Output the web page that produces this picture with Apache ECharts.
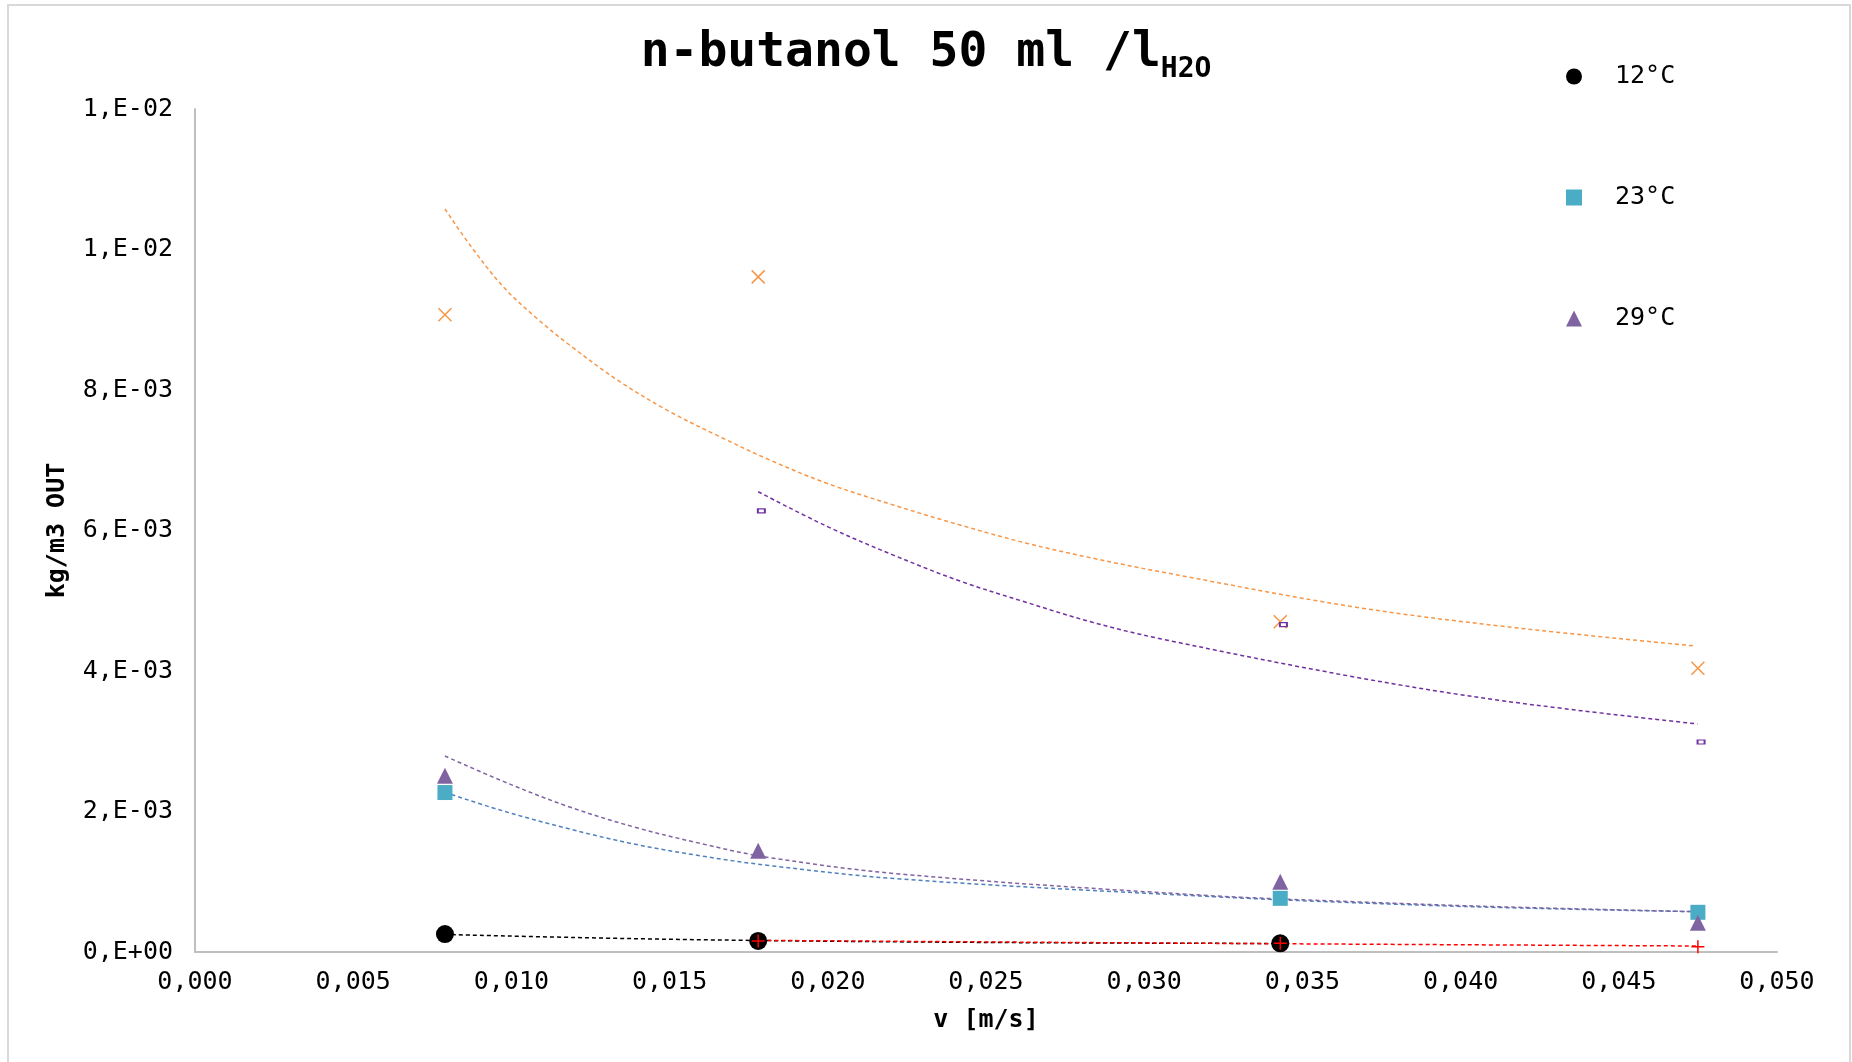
<!DOCTYPE html>
<html>
<head>
<meta charset="utf-8">
<title>n-butanol 50 ml /l H2O</title>
<script src="https://cdn.jsdelivr.net/npm/echarts@6/dist/echarts.min.js"></script>
<style>
  html, body { margin: 0; padding: 0; background: #fff; }
  #chart { width: 1852px; height: 1062px; }
</style>
</head>
<body>
<div id="chart"></div>
<script>
// measured points [v, kg/m3]
const pts12 = [[0.0079, 0.000256], [0.0178, 0.000157], [0.0343, 0.000124]]
const pts23 = [[0.0079, 0.00227], [0.0343, 0.000764], [0.0475, 0.000565]]
const pts29 = [[0.0079, 0.00251], [0.0178, 0.00144], [0.0343, 0.00100], [0.0475, 0.000417]]
const ptsCross = [[0.0079, 0.00907], [0.0178, 0.00961], [0.0343, 0.00470], [0.0475, 0.00404]]
const ptsDash = [[0.0179, 0.00628], [0.0344, 0.00466], [0.0476, 0.00299]]
const ptsPlus = [[0.0178, 0.000157], [0.0343, 0.000124], [0.0475, 0.0000754]]

// trendlines
const trendCross = [
  [0.00790, 0.010577], [0.00869, 0.010064], [0.00974, 0.009471], [0.01080, 0.009021],
  [0.01185, 0.008636], [0.01343, 0.008118], [0.01501, 0.007691], [0.01659, 0.007335],
  [0.01817, 0.007003], [0.01997, 0.006672], [0.02207, 0.006363], [0.02418, 0.006078],
  [0.02629, 0.005818], [0.02839, 0.005604], [0.03050, 0.005414], [0.03660, 0.004915],
  [0.04143, 0.004631], [0.04741, 0.004356]
]
const trendDash = [
  [0.01780, 0.006552], [0.01997, 0.006060], [0.02207, 0.005650], [0.02418, 0.005280],
  [0.02629, 0.004975], [0.02839, 0.004690], [0.03050, 0.004460], [0.03660, 0.003919],
  [0.04143, 0.003570], [0.04749, 0.003246]
]
const trend23 = [
  [0.00790, 0.002273], [0.00964, 0.002021], [0.01175, 0.001761], [0.01384, 0.001540],
  [0.01596, 0.001370], [0.01807, 0.001235], [0.02228, 0.001039], [0.03176, 0.000797],
  [0.03660, 0.000702], [0.04143, 0.000631], [0.04743, 0.000574]
]
const trend29 = [
  [0.00790, 0.002790], [0.00964, 0.002448], [0.01175, 0.002078], [0.01384, 0.001784],
  [0.01596, 0.001547], [0.01807, 0.001350], [0.02228, 0.001110], [0.03176, 0.000811],
  [0.03660, 0.000716], [0.04143, 0.000641], [0.04743, 0.000574]
]
const trend12 = [[0.0079, 0.000250], [0.0128, 0.000199], [0.0178, 0.000164], [0.0254, 0.000135], [0.0343, 0.000121]]
const trendPlus = [[0.0181, 0.000165], [0.0318, 0.000124], [0.0475, 0.0000854]]

const legendNames = ['12°C', '23°C', '29°C']

const FONT = '"DejaVu Sans Mono", monospace'

function sciLabel(v) {
  if (v === 0) return '0,E+00'
  let exp = Math.floor(Math.log10(v))
  let mant = Math.round(v / Math.pow(10, exp))
  if (mant >= 10) { mant = 1; exp += 1 }
  const sign = exp < 0 ? '-' : '+'
  return mant + ',E' + sign + String(Math.abs(exp)).padStart(2, '0')
}

function trendLine(data, color) {
  return {
    type: 'line',
    data: data,
    smooth: 0.35,
    showSymbol: false,
    silent: true,
    z: 1,
    lineStyle: { color: color, width: 1.5, type: [4, 3] }
  }
}

const chart = echarts.init(document.getElementById('chart'))

chart.setOption({
  backgroundColor: '#fff',
  animation: false,
  graphic: [{
    type: 'rect',
    shape: { x: 8, y: 5, width: 1842, height: 1100 },
    style: { fill: 'none', stroke: '#d9d9d9', lineWidth: 2 },
    silent: true
  }],
  title: {
    text: '{a|n-butanol 50 ml /l}{b|H2O}',
    left: 'center',
    top: 24,
    padding: 0,
    textStyle: {
      rich: {
        a: { fontFamily: FONT, fontWeight: 'bold', fontSize: 48, lineHeight: 60, color: '#000' },
        b: { fontFamily: FONT, fontWeight: 'bold', fontSize: 28, lineHeight: 22, verticalAlign: 'bottom', color: '#000' }
      }
    }
  },
  legend: {
    data: legendNames,
    orient: 'vertical',
    left: 1561,
    top: 59,
    itemGap: 96,
    itemWidth: 16,
    itemHeight: 16,
    textStyle: { fontFamily: FONT, fontSize: 25, color: '#000', padding: [0, 0, 0, 28] }
  },
  grid: { left: 195, right: 75, top: 109, bottom: 110 },
  xAxis: {
    type: 'value',
    min: 0,
    max: 0.05,
    interval: 0.005,
    name: 'v [m/s]',
    nameLocation: 'middle',
    nameGap: 56,
    nameTextStyle: { fontFamily: FONT, fontWeight: 'bold', fontSize: 25, color: '#000' },
    axisLine: { lineStyle: { color: '#bfbfbf', width: 2 } },
    axisTick: { show: false },
    splitLine: { show: false },
    axisLabel: {
      margin: 18,
      fontFamily: FONT, fontSize: 25, color: '#000',
      formatter: v => v.toFixed(3).replace('.', ',')
    }
  },
  yAxis: {
    type: 'value',
    min: 0,
    max: 0.012,
    interval: 0.002,
    name: 'kg/m3 OUT',
    nameLocation: 'middle',
    nameGap: 125,
    nameTextStyle: { fontFamily: FONT, fontWeight: 'bold', fontSize: 25, color: '#000' },
    axisLine: { show: true, lineStyle: { color: '#bfbfbf', width: 2 } },
    axisTick: { show: false },
    splitLine: { show: false },
    axisLabel: {
      margin: 22,
      fontFamily: FONT, fontSize: 25, color: '#000',
      formatter: sciLabel
    }
  },
  series: [
    trendLine(trendCross, '#f79646'),
    trendLine(trendDash, '#7030a0'),
    trendLine(trend23, '#4f81bd'),
    trendLine(trend29, '#8064a2'),
    trendLine(trend12, '#000000'),
    trendLine(trendPlus, '#ff0000'),
    {
      name: '12°C', type: 'scatter', data: pts12, symbol: 'circle', symbolSize: 18, z: 3,
      itemStyle: { color: '#000', opacity: 1 }
    },
    {
      name: '23°C', type: 'scatter', data: pts23, symbol: 'rect', symbolSize: 15, z: 3,
      itemStyle: { color: '#4bacc6', opacity: 1 }
    },
    {
      name: '29°C', type: 'scatter', data: pts29, symbol: 'triangle', symbolSize: 16, z: 3,
      itemStyle: { color: '#8064a2', opacity: 1 }
    },
    {
      name: 'cross', type: 'scatter', data: ptsCross, symbol: 'path://M0,0L10,10M10,0L0,10',
      symbolSize: 13, z: 3,
      itemStyle: { color: 'none', borderColor: '#f79646', borderWidth: 1.5, opacity: 1 }
    },
    {
      name: 'dash', type: 'scatter', data: ptsDash, symbol: 'rect', symbolSize: [7, 4], z: 3,
      itemStyle: { color: '#fff', borderColor: '#7030a0', borderWidth: 1.5, opacity: 1 }
    },
    {
      name: 'plus', type: 'scatter', data: ptsPlus, symbol: 'path://M5,0L5,10M0,5L10,5',
      symbolSize: 13, z: 4,
      itemStyle: { color: 'none', borderColor: '#ff0000', borderWidth: 1.5, opacity: 1 }
    }
  ]
})

window.addEventListener('resize', () => chart.resize())
</script>
</body>
</html>
